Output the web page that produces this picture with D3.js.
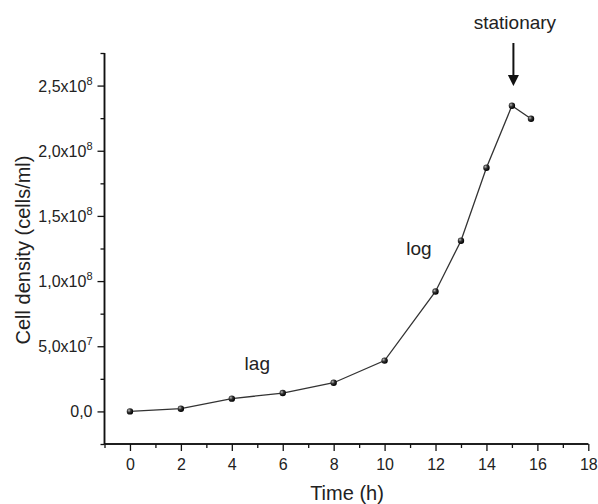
<!DOCTYPE html>
<html><head><meta charset="utf-8">
<script src="https://cdn.jsdelivr.net/npm/d3@7"></script>
<style>body{margin:0;background:#fff}svg{display:block}text{font-family:"Liberation Sans",Arial,Helvetica,sans-serif}</style>
</head><body>
<svg id="c" width="598" height="504"></svg>
<script>
const timeH = [0, 2, 4, 6, 8, 10, 12, 13, 14, 15, 15.75];
const cellDensity = [0, 2.1e6, 9.8e6, 1.41e7, 2.2e7, 3.9e7, 9.2e7, 1.31e8, 1.87e8, 2.345e8, 2.245e8];
const xMajorTicks = [0, 2, 4, 6, 8, 10, 12, 14, 16, 18];
const xMinorTicks = [-1, 1, 3, 5, 7, 9, 11, 13, 15, 17];
const yMajorTicks = [0, 5e7, 1e8, 1.5e8, 2e8, 2.5e8];
const yMajorLabels = [["0,0", null], ["5,0x10", "7"], ["1,0x10", "8"], ["1,5x10", "8"], ["2,0x10", "8"], ["2,5x10", "8"]];
const yMinorTicks = [-2.5e7, 2.5e7, 7.5e7, 1.25e8, 1.75e8, 2.25e8, 2.75e8];
const annotations = [{t: "lag", x: 5, y: 3.15e7}, {t: "log", x: 11.35, y: 1.2e8}];
const stationaryX = 15;

const svg = d3.select("#c");
const x = d3.scaleLinear().domain([-1, 18]).range([104.5, 588.3]);
const y = d3.scaleLinear().domain([-2.5e7, 2.75e8]).range([444, 53]);

const defs = svg.append("defs");
const g = defs.append("radialGradient").attr("id","ball").attr("cx","35%").attr("cy","35%").attr("r","65%");
g.append("stop").attr("offset","0%").attr("stop-color","#bbb");
g.append("stop").attr("offset","45%").attr("stop-color","#333");
g.append("stop").attr("offset","100%").attr("stop-color","#000");

// X axis
const xAxisG = svg.append("g").attr("transform", `translate(0,${y.range()[0]})`);
xAxisG.call(d3.axisBottom(x).tickValues(xMajorTicks).tickSize(7).tickPadding(8).tickFormat(d3.format("d")));
xAxisG.append("g").call(d3.axisBottom(x).tickValues(xMinorTicks).tickSize(4).tickFormat(""));
xAxisG.selectAll(".domain").attr("stroke","#111").attr("stroke-width",1.5);
xAxisG.selectAll(".tick line").attr("stroke","#111").attr("stroke-width",1.3);
xAxisG.selectAll("text").attr("font-size",16).attr("fill","#222").attr("font-family","Liberation Sans, Arial, sans-serif");
xAxisG.selectAll(".domain").attr("d", `M${x.range()[0]},0H${x.range()[1]}`);

// Y axis
const yAxisG = svg.append("g").attr("transform", `translate(${x.range()[0]},0)`);
yAxisG.call(d3.axisLeft(y).tickValues(yMajorTicks).tickSize(7).tickPadding(5).tickFormat(""));
yAxisG.append("g").call(d3.axisLeft(y).tickValues(yMinorTicks).tickSize(4).tickFormat(""));
yAxisG.selectAll(".domain").attr("stroke","#111").attr("stroke-width",1.5).attr("d", `M0,${y.range()[0]}V${y.range()[1]}`);
yAxisG.selectAll(".tick line").attr("stroke","#111").attr("stroke-width",1.3);
yAxisG.selectAll(".tick").filter(d => yMajorTicks.includes(d)).each(function(d){
  const i = yMajorTicks.indexOf(d);
  const lab = yMajorLabels[i];
  const t = d3.select(this).append("text").attr("x", -12).attr("y", 5.5)
    .attr("text-anchor","end").attr("fill","#222").attr("font-size",16);
  t.append("tspan").text(lab[0]);
  if (lab[1]) t.append("tspan").attr("font-size",11).attr("dy",-7).text(lab[1]);
});

// Axis titles
svg.append("text").attr("x", 347).attr("y", 500).attr("text-anchor","middle")
  .attr("font-size",20).attr("fill","#222").text("Time (h)");
svg.append("text").attr("transform","translate(30,250) rotate(-90)").attr("text-anchor","middle")
  .attr("font-size",20).attr("fill","#222").text("Cell density (cells/ml)");

// Line
const pts = timeH.map((t,i)=>[t, cellDensity[i]]);
svg.append("path").datum(pts)
  .attr("d", d3.line().x(d=>x(d[0])).y(d=>y(d[1])))
  .attr("fill","none").attr("stroke","#333").attr("stroke-width",1.3);
svg.selectAll("circle.pt").data(pts).enter().append("circle").attr("class","pt")
  .attr("cx", d=>x(d[0])).attr("cy", d=>y(d[1])).attr("r", 3.2).attr("fill","url(#ball)");

// Annotations
svg.selectAll("text.ann").data(annotations).enter().append("text").attr("class","ann")
  .attr("x", d=>x(d.x)).attr("y", d=>y(d.y)).attr("text-anchor","middle")
  .attr("font-size",19).attr("fill","#222").text(d=>d.t);

const sx = x(stationaryX) + 1.5;
svg.append("text").attr("x", sx + 1.5).attr("y", 29).attr("text-anchor","middle")
  .attr("font-size",19).attr("fill","#222").text("stationary");
svg.append("line").attr("x1", sx).attr("x2", sx).attr("y1", 43).attr("y2", 76)
  .attr("stroke","#111").attr("stroke-width",2);
svg.append("path").attr("d", `M${sx-5.5},75L${sx+5.5},75L${sx},86Z`).attr("fill","#111");
</script>
</body></html>
